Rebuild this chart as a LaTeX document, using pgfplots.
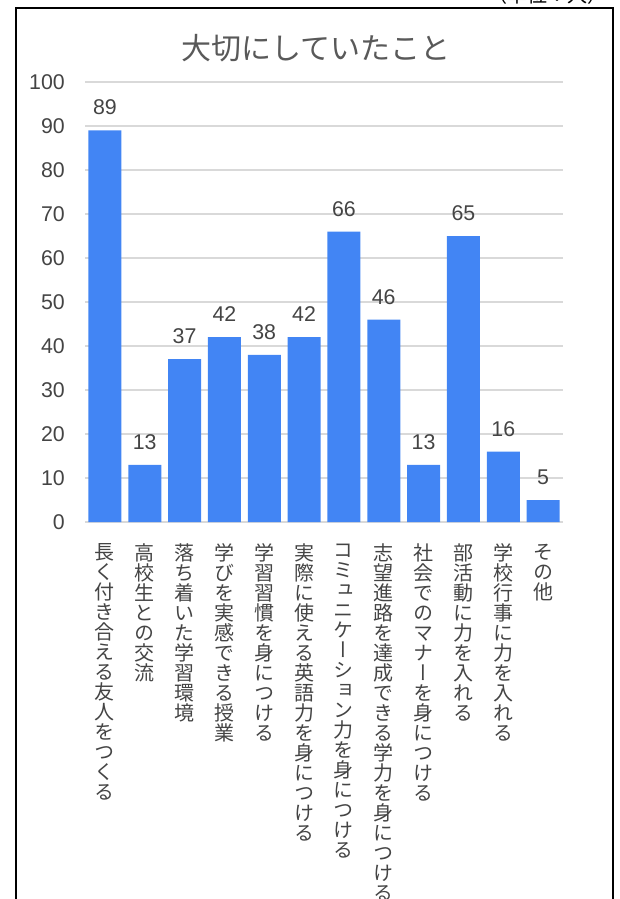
\documentclass[border=0pt]{standalone}
\usepackage{pgfplots}
\pgfplotsset{compat=1.18}
\usepackage{fontspec}
\setmainfont{Liberation Sans}
\newfontfamily\cjk{Noto Sans CJK JP}
\newfontfamily\cjkv[RawFeature=+vert]{Noto Sans CJK JP}
\definecolor{barblue}{HTML}{4285F4}
\definecolor{txt}{HTML}{444444}
\definecolor{ttl}{HTML}{595959}
\definecolor{gridgray}{HTML}{D9D9D9}

% one character per line, for the vertical category names
\ExplSyntaxOn
\NewDocumentCommand\vt{m}{\vbox{\baselineskip=15pt\lineskiplimit=-30pt\lineskip=0pt
  \tl_map_inline:nn{#1}{\hbox to 15pt{\hss##1\hss}}}}
\ExplSyntaxOff

\begin{document}
\begin{tikzpicture}
% page = 619 x 899 px, 1 px = 0.75pt
\useasboundingbox (0,0) rectangle (464.25pt,-674.25pt);
\draw[line width=1.5pt] (12pt,-6pt) rectangle (459.75pt,-700pt);
\node[anchor=south east, inner sep=0pt, font=\cjk\fontsize{15pt}{18pt}\selectfont] at (456pt,-3.5pt) {（単位：人）};
\node[font=\cjk\fontsize{22.5pt}{27pt}\selectfont, text=ttl] at (237pt,-36pt) {大切にしていたこと};

\begin{axis}[
    at={(63.75pt,-391.5pt)}, anchor=south west,
    scale only axis, width=358.5pt, height=330pt,
    ybar, bar width=24.75pt,
    xmin=-0.5, xmax=11.5, ymin=0, ymax=100,
    ytick={0,10,...,100},
    ymajorgrids=true,
    grid style={draw=gridgray, line width=0.9pt},
    axis line style={draw=none},
    tick style={draw=none},
    /pgf/number format/assume math mode=true,
    yticklabel style={font=\fontsize{16pt}{19pt}\selectfont, text=txt, inner sep=0pt, anchor=east},
    yticklabel shift=15pt,
    xtick={0,...,11},
    xticklabels={
      \vt{長く付き合える友人をつくる},
      \vt{高校生との交流},
      \vt{落ち着いた学習環境},
      \vt{学びを実感できる授業},
      \vt{学習習慣を身につける},
      \vt{実際に使える英語力を身につける},
      \vt{コミュニケーション力を身につける},
      \vt{志望進路を達成できる学力を身につける},
      \vt{社会でのマナーを身につける},
      \vt{部活動に力を入れる},
      \vt{学校行事に力を入れる},
      \vt{その他}},
    xticklabel style={font=\cjkv\fontsize{15pt}{15pt}\selectfont, text=txt, inner sep=0pt, anchor=north, yshift=-12pt},
    nodes near coords,
    every node near coord/.append style={font=\fontsize{16pt}{19pt}\selectfont, text=txt, inner sep=0pt, anchor=south, yshift=11.25pt},
]
\addplot[fill=barblue, draw=none] coordinates {
  (0,89) (1,13) (2,37) (3,42) (4,38) (5,42)
  (6,66) (7,46) (8,13) (9,65) (10,16) (11,5)
};
\end{axis}
\end{tikzpicture}
\end{document}
